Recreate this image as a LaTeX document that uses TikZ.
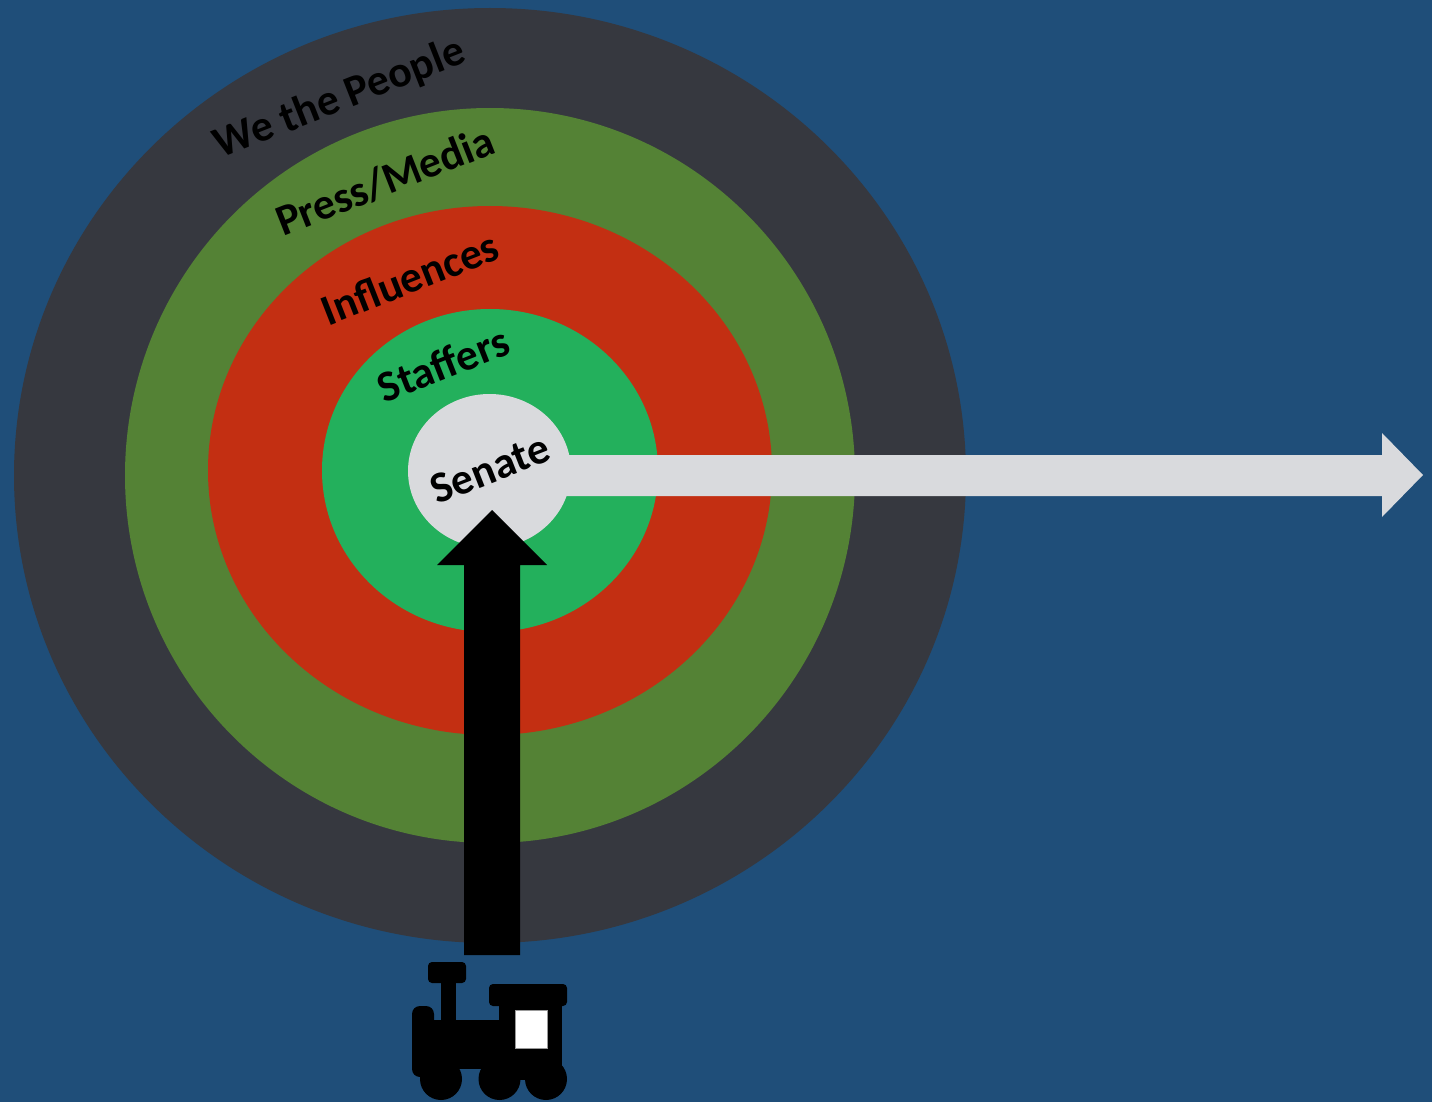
\documentclass[tikz,border=0pt]{standalone}
\usepackage{fontspec}
\setmainfont{Carlito}
\usetikzlibrary{shapes.geometric}
\definecolor{bgblue}{HTML}{1F4E79}
\definecolor{ringdark}{HTML}{36383F}
\definecolor{ringolive}{HTML}{548235}
\definecolor{ringred}{HTML}{C32F12}
\definecolor{ringgreen}{HTML}{23B05C}
\definecolor{coregrey}{HTML}{D9DADD}
\tikzset{
  ring/.style={ellipse,draw=none,inner sep=0pt,outer sep=0pt},
  ringlabel/.style={font=\bfseries\fontsize{21.9}{26}\selectfont,text=black,inner sep=0pt,rotate=21.5,anchor=center},
  trainpart/.style={fill=black,rounded corners=2pt}
}
\begin{document}
\begin{tikzpicture}[x=0.5pt,y=-0.5pt]
\useasboundingbox (0,0) rectangle (1432,1102);
\fill[bgblue] (0,0) rectangle (1432,1102);
\node[ring,fill=ringdark,minimum width=476pt,minimum height=467.5pt] (people) at (490,475.5) {};
\node[ring,fill=ringolive,minimum width=365pt,minimum height=367.5pt] (press) at (490,475.5) {};
\node[ring,fill=ringred,minimum width=282pt,minimum height=264.5pt] (influences) at (490,470.5) {};
\node[ring,fill=ringgreen,minimum width=168pt,minimum height=161.5pt] (staffers) at (490,470.5) {};
\fill[coregrey] (565,455) -- (1382,455) -- (1382,433) -- (1423,475) -- (1382,517) -- (1382,496) -- (565,496) -- cycle;
\node[ring,fill=coregrey,minimum width=81.5pt,minimum height=77pt] (senate) at (489.5,471) {};
\fill[black] (464,955) -- (464,565) -- (437,565) -- (492,510) -- (547,565) -- (520,565) -- (520,955) -- cycle;
\node[ringlabel] (tpeople) at (340,99) {We the People};
\node[ringlabel] (tpress) at (385,181) {Press/Media};
\node[ringlabel] (tinfl) at (410,278) {Influences};
\node[ringlabel] (tstaff) at (443,364) {Staffers};
\node[ringlabel] (tsenate) at (490,469) {Senate};
% train
\fill[trainpart] (428,962) rectangle (466,983);
\fill[black] (441,980) rectangle (456,1025);
\fill[trainpart] (489,984) rectangle (567,1006);
\fill[black] (499,1004) rectangle (562,1080);
\fill[black] (425,1020) rectangle (562,1069);
\fill[trainpart,rounded corners=4pt] (412,1006) rectangle (434,1077);
\fill[black] (441,1079) circle[radius=21];
\fill[black] (499.5,1079) circle[radius=21];
\fill[black] (546,1079) circle[radius=21];
\fill[white,draw=black!40,line width=0.4pt] (515,1010) rectangle (547,1048);
\end{tikzpicture}
\end{document}
